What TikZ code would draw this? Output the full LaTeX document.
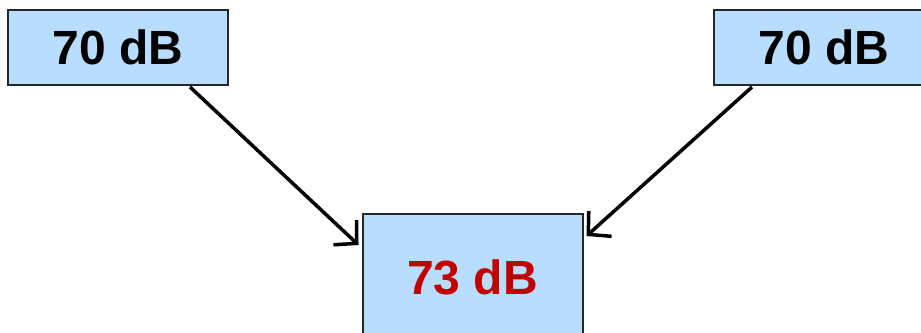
\documentclass[tikz,border=0pt]{standalone}
\usepackage{fontspec}
\setmainfont{Liberation Sans}
\usetikzlibrary{arrows.meta,calc}
\definecolor{boxfill}{HTML}{B8DDFF}
\definecolor{sumred}{HTML}{C00000}
\begin{document}
\begin{tikzpicture}[x=1pt,y=-1pt,
  level/.style={draw=black!85,line width=2pt,fill=boxfill,minimum width=220pt,
    inner sep=0pt,font=\fontsize{48}{48}\selectfont\bfseries},
  arr/.style={line width=3.5pt,-{Straight Barb[length=16pt,width=34pt,line width=3.5pt]}}]
  \useasboundingbox (0,0) rectangle (921,332);
  \clip (0,0) rectangle (921,332);
  \node[level,minimum height=75pt] (left)  at (118,47.5) {70 dB};
  \node[level,minimum height=75pt] (right) at (824,47.5) {70 dB};
  \node[level,minimum height=126pt,text=sumred] (sum) at (472.5,277) {73 dB};
  \draw[arr] ($(left.south)+(72,1)$) -- ($(sum.north west)+(-3,32)$);
  \draw[arr] ($(right.south)+(-72,1)$) -- ($(sum.north east)+(3,23)$);
\end{tikzpicture}
\end{document}
